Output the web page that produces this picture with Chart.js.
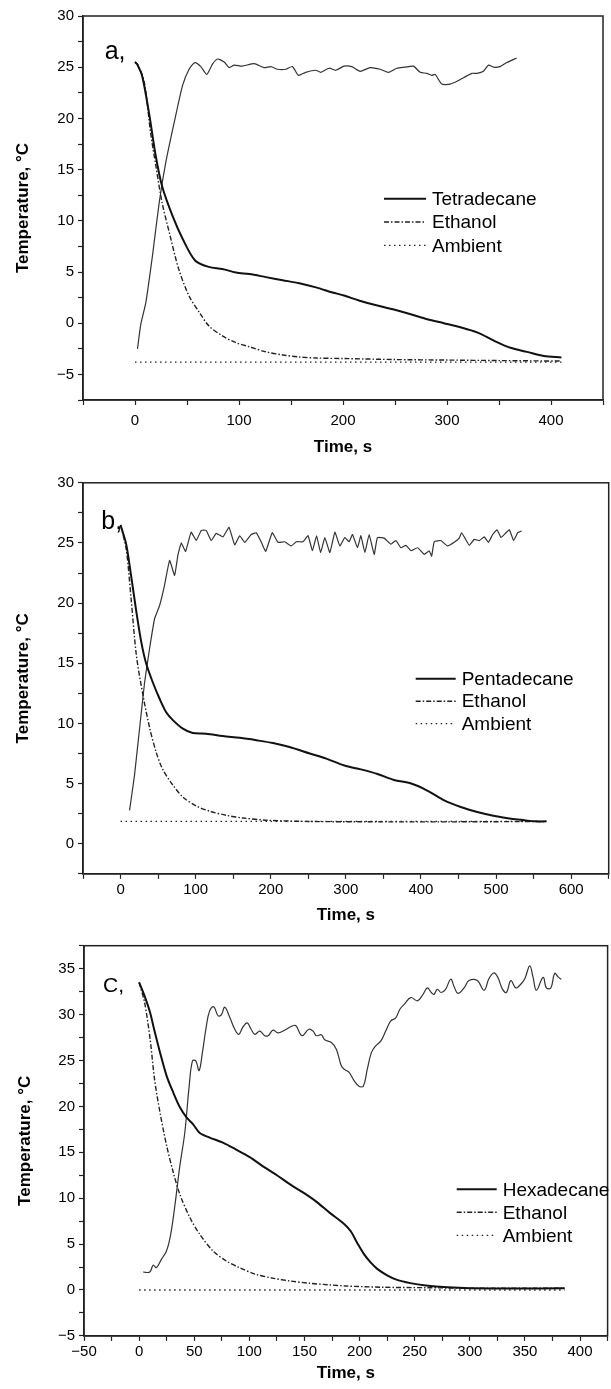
<!DOCTYPE html>
<html>
<head>
<meta charset="utf-8">
<script src="https://cdn.jsdelivr.net/npm/chart.js@4.4.1/dist/chart.umd.min.js"></script>
<style>
  body { margin: 0; background: #fff; width: 611px; height: 1389px; position: relative; overflow: hidden; }
  .panel { position: absolute; left: 0; width: 611px; }
</style>
</head>
<body>
<div class="panel" style="top:0;height:465px"><canvas id="chartA"></canvas></div>
<div class="panel" style="top:465px;height:465px"><canvas id="chartB"></canvas></div>
<div class="panel" style="top:930px;height:459px"><canvas id="chartC"></canvas></div>
<script>
// panel a: tetradecane
const aTetraT = [0, 2, 7, 14, 20, 26, 36, 46, 58, 71, 84, 97, 110, 126, 142, 158, 174, 190, 201, 216, 232, 248, 265, 281, 297, 313, 329, 345, 361, 377, 393, 410];
const aTetraV = [25.5, 25.3, 24.1, 20.2, 16.3, 13.4, 10.5, 8.2, 6.1, 5.5, 5.3, 4.95, 4.8, 4.5, 4.2, 3.9, 3.5, 3.0, 2.7, 2.2, 1.75, 1.37, 0.88, 0.39, 0, -0.4, -0.9, -1.7, -2.4, -2.8, -3.2, -3.35];
const aEthT = [0, 3, 9, 15, 20, 26, 33, 42, 52, 62, 71, 84, 97, 110, 126, 142, 158, 174, 201, 250, 300, 350, 410];
const aEthV = [25.5, 25.2, 23.5, 18.6, 15.4, 11.8, 8.85, 5.3, 2.65, 1.04, -0.26, -1.24, -1.9, -2.3, -2.8, -3.1, -3.3, -3.4, -3.45, -3.55, -3.6, -3.65, -3.7];
const aAmbT = [0, 410];
const aAmbV = [-3.8, -3.8];
const aRiseT = [2.4, 5.6, 10.4, 16.8, 23.3, 29.6, 37.7, 45.7, 52, 57.5, 63.3, 69, 74.5, 79.3, 85.8, 90.6, 95.4, 103, 114.6, 124, 130.6, 137, 145, 151.4, 157.2, 164, 174, 178.6, 186.7, 193, 201, 208.5, 216.5, 226, 235.8, 243.8, 251.8, 259.5, 267.8, 274.2, 280.6, 285.4, 288.6, 295, 303, 311, 319, 324, 329, 335, 340, 345, 351, 357.5, 367];
const aRiseV = [-2.5, -0.1, 2.0, 6.6, 11.8, 15.7, 19.6, 23.2, 24.8, 25.45, 25.06, 24.3, 25.3, 25.8, 25.5, 24.96, 25.2, 25.1, 25.35, 24.96, 25.06, 24.8, 24.8, 25.06, 24.2, 24.5, 24.7, 24.5, 24.9, 24.7, 25.1, 25.06, 24.6, 24.96, 24.8, 24.5, 24.9, 25, 25.1, 24.5, 24.4, 24.2, 24.3, 23.35, 23.35, 23.7, 24.15, 24.4, 24.4, 24.6, 25.2, 25, 25.06, 25.45, 25.9];

// panel b: pentadecane
const bPentT = [0, 7.5, 14, 21, 27.5, 34, 43, 52, 61, 70, 83, 96, 114, 136, 159, 181, 203, 225, 252, 274, 298, 320, 342, 364, 387, 409, 431, 453, 475, 498, 520, 538, 551, 567];
const bPentV = [26.5, 24.9, 22.3, 19.3, 16.8, 15, 13.4, 12.05, 10.9, 10.25, 9.56, 9.2, 9.15, 8.95, 8.8, 8.6, 8.37, 8.04, 7.5, 7.07, 6.5, 6.18, 5.8, 5.3, 5.0, 4.4, 3.6, 3.05, 2.63, 2.3, 2.08, 1.95, 1.86, 1.86];
const bEthT = [0, 7.5, 14, 21, 30, 39, 47.5, 56, 70, 83, 101, 119, 141, 163, 196, 250, 350, 450, 567];
const bEthV = [26.5, 24.5, 20.4, 15.7, 12.3, 9.56, 7.6, 6.2, 4.85, 3.88, 3.13, 2.7, 2.36, 2.14, 1.95, 1.85, 1.82, 1.82, 1.85];
const bAmbT = [0, 567];
const bAmbV = [1.85, 1.85];
const bRiseT = [12, 18.6, 25.3, 32, 38.6, 45.3, 52, 58.6, 65.3, 72, 76.4, 80.8, 86.6, 94, 100.8, 107.5, 114, 120.8, 127.4, 136.4, 144.4, 152, 158.6, 165.3, 174, 180.8, 187.5, 193.3, 202, 209.7, 218.5, 227.4, 234, 243, 249.7, 255.5, 261, 266.4, 272, 278.7, 285.4, 292, 298.6, 304.4, 308.8, 315.5, 320, 325.3, 331, 337.7, 342, 351, 360, 366.6, 373.3, 380, 386.7, 395.6, 404.4, 411, 414.2, 417.7, 426.5, 435.4, 444.3, 451, 454, 458.6, 464.4, 471, 477.8, 484.4, 489.8, 495.5, 501.3, 506.6, 513.3, 517.7, 523.5, 528.8, 534];
const bRiseV = [2.77, 5.7, 9.56, 13.4, 16.2, 18.7, 19.8, 21.5, 23.55, 22.3, 24, 25, 24.3, 25.9, 25.2, 26.05, 26.05, 25.2, 25.8, 25.5, 26.3, 24.85, 25.6, 25.05, 25.7, 25.85, 25.05, 24.3, 25.85, 25.05, 25.1, 24.75, 25.1, 25.1, 25.6, 24.35, 25.6, 24.2, 25.45, 24.2, 25.9, 24.75, 25.45, 25.1, 25.7, 24.6, 25.6, 24.2, 25.7, 24.05, 25.45, 25.4, 24.9, 25.2, 24.6, 24.8, 24.35, 24.6, 24.05, 24.35, 23.9, 25.1, 25.2, 24.75, 25.05, 25.4, 25.85, 25.4, 24.8, 25.3, 25.2, 25.5, 25.05, 25.7, 26.1, 25.45, 25.85, 26.1, 25.2, 25.85, 26];

// panel c: hexadecane
const cHexT = [0, 5, 10, 14, 19, 25, 31, 37, 43, 49, 55, 64, 76, 88, 100, 112, 125, 137, 149, 161, 173, 186, 192, 198, 204, 210, 216, 225, 234, 246, 260, 280, 300, 340, 386];
const cHexV = [33.5, 32, 30.2, 28.2, 25.85, 23.3, 21.5, 19.9, 18.8, 18.05, 17.1, 16.6, 16.05, 15.3, 14.5, 13.5, 12.5, 11.5, 10.6, 9.6, 8.4, 7.2, 6.4, 5.1, 3.9, 3.0, 2.3, 1.6, 1.1, 0.75, 0.5, 0.3, 0.2, 0.15, 0.2];
const cEthT = [0, 5, 10, 14, 19, 25, 31, 37, 46, 55, 67, 79, 91, 106, 122, 137, 155, 173, 187, 220, 260, 300, 386];
const cEthV = [33.5, 31.3, 27.3, 22.95, 19.3, 15.7, 12.8, 10.4, 7.9, 6.07, 4.25, 3.16, 2.43, 1.7, 1.27, 0.98, 0.73, 0.55, 0.44, 0.3, 0.25, 0.2, 0.2];
const cAmbT = [0, 386];
const cAmbV = [0, 0];
const cRiseT = [3.6, 9.7, 12.7, 15.7, 20.2, 24.8, 28.4, 32.4, 36.9, 41.4, 45.4, 48.4, 51.4, 54.4, 57.4, 61, 64, 67.7, 71.7, 74.7, 77.7, 82.2, 86.8, 90.4, 94, 98, 101.6, 105, 109.5, 114, 117, 121.5, 126, 132, 138, 142, 147.8, 153.9, 157.8, 160.8, 165.3, 168.4, 174.4, 179, 183.5, 186.6, 190.5, 195, 199.5, 203.4, 207, 210.7, 214.6, 219.2, 223.7, 228.3, 232.8, 236.7, 240.4, 246.4, 252.5, 257, 261.5, 265, 267.5, 270.5, 274, 278, 282.7, 285.7, 289.3, 294.8, 299.3, 306.8, 312.9, 317.5, 322, 325.6, 329.5, 333.2, 337.2, 341.7, 346.2, 349.9, 354.4, 357.4, 360.4, 366.5, 369.5, 373.5, 377, 380, 383];
const cRiseV = [1.96, 1.96, 2.7, 2.43, 3.34, 4.25, 5.9, 9.15, 13.5, 17.1, 22.2, 24.95, 24.95, 23.9, 25.85, 28.75, 30.4, 30.86, 29.85, 30, 30.8, 29.7, 28.4, 27.85, 28.6, 29.1, 28.4, 27.85, 28.2, 27.7, 27.7, 28.3, 28, 28.3, 28.7, 28.8, 27.7, 28.4, 28.2, 27.7, 27.8, 27.25, 26.95, 26.2, 24.4, 24, 23.7, 22.8, 22.2, 22.2, 24.05, 25.85, 26.6, 27.1, 28.2, 29.3, 29.65, 30.6, 31.1, 31.85, 31.5, 32.1, 32.9, 32.4, 32.2, 32.75, 32.4, 32.75, 33.85, 33.05, 32.3, 32.9, 33.7, 33.7, 32.65, 33.95, 34.55, 34, 32.8, 32.4, 33.7, 32.9, 33.3, 33.9, 35.3, 34.05, 32.65, 34.05, 32.9, 32.9, 34.5, 34.1, 33.85];

const FONT = 'Arial, "Liberation Sans", sans-serif';
Chart.defaults.font.family = FONT;
Chart.defaults.color = '#000';

function pts(xs, ys) {
  return xs.map((x, i) => ({ x: x, y: ys[i] }));
}

function onStep(v, step) {
  return Math.abs(v / step - Math.round(v / step)) < 1e-6;
}

function fmt(v) {
  const r = Math.round(v * 100) / 100;
  return r < 0 ? '\u2212' + Math.abs(r) : String(r);
}

// box round the plot area
const framePlugin = {
  id: 'frame',
  afterDraw(chart) {
    const a = chart.chartArea, ctx = chart.ctx;
    ctx.save();
    ctx.strokeStyle = '#222';
    ctx.lineWidth = 1.5;
    ctx.strokeRect(a.left, a.top, a.right - a.left, a.bottom - a.top);
    ctx.restore();
  }
};

// legend drawn inside the plot, built from the dataset styles
const keyPlugin = {
  id: 'seriesKey',
  afterDraw(chart, args, opts) {
    const ctx = chart.ctx;
    ctx.save();
    ctx.font = '19px ' + FONT;
    ctx.textBaseline = 'middle';
    ctx.fillStyle = '#000';
    let row = 0;
    chart.data.datasets.forEach(ds => {
      if (!ds.label) return;
      const y = opts.y + row * opts.rowH;
      ctx.beginPath();
      ctx.setLineDash(ds.borderDash || []);
      ctx.lineWidth = ds.borderWidth;
      ctx.strokeStyle = ds.borderColor;
      ctx.moveTo(opts.x, y);
      ctx.lineTo(opts.x + opts.len, y);
      ctx.stroke();
      ctx.setLineDash([]);
      ctx.fillText(ds.label, opts.x + opts.len + 6, y + 1);
      row++;
    });
    ctx.restore();
  }
};

const tagPlugin = {
  id: 'panelTag',
  afterDraw(chart, args, opts) {
    const ctx = chart.ctx;
    ctx.save();
    ctx.font = opts.size + 'px ' + FONT;
    ctx.fillStyle = '#000';
    ctx.textBaseline = 'alphabetic';
    ctx.fillText(opts.text, opts.x, opts.y);
    ctx.restore();
  }
};

function drawPanel(id, p) {
  const axisLine = { display: true, color: '#222', width: 1.5 };
  const tickGrid = { drawOnChartArea: false, drawTicks: true, tickLength: 5, tickColor: '#222', tickWidth: 1.2 };
  new Chart(document.getElementById(id), {
    type: 'line',
    data: {
      datasets: [
        { label: p.name, data: pts(p.mainT, p.mainV), borderColor: '#111', borderWidth: 2, tension: 0.3, pointRadius: 0 },
        { label: 'Ethanol', data: pts(p.ethT, p.ethV), borderColor: '#222', borderWidth: 1.4, borderDash: [5, 2, 1.5, 2], tension: 0.3, pointRadius: 0 },
        { label: 'Ambient', data: pts(p.ambT, p.ambV), borderColor: '#222', borderWidth: 1.3, borderDash: [1.5, 3.5], pointRadius: 0 },
        { label: '', data: pts(p.riseT, p.riseV), borderColor: '#333', borderWidth: 1.2, tension: p.riseTension, pointRadius: 0 }
      ]
    },
    options: {
      responsive: true,
      maintainAspectRatio: false,
      animation: false,
      events: [],
      layout: { padding: { top: p.padTop, right: p.padRight, left: 0, bottom: 0 } },
      plugins: {
        legend: { display: false },
        tooltip: { enabled: false },
        seriesKey: p.key,
        panelTag: p.tag
      },
      scales: {
        x: {
          type: 'linear',
          min: p.xMin,
          max: p.xMax,
          ticks: {
            stepSize: p.xStep,
            autoSkip: false,
            maxRotation: 0,
            padding: p.xPad,
            font: { size: 15 },
            color: '#000',
            callback: v => (onStep(v, p.xMajor) && v >= p.xFirst) ? fmt(v) : ''
          },
          grid: tickGrid,
          border: axisLine,
          title: { display: true, text: 'Time, s', font: { size: 17, weight: 'bold' }, padding: { top: 0, bottom: p.xTitlePad } },
          afterFit: s => { s.height = p.xHeight; }
        },
        y: {
          min: p.yMin,
          max: p.yMax,
          ticks: {
            stepSize: 2.5,
            autoSkip: false,
            padding: 4,
            font: { size: 15 },
            color: '#000',
            callback: v => (onStep(v, 5) && v >= p.yFirst) ? fmt(v) : ''
          },
          grid: tickGrid,
          border: axisLine,
          title: { display: true, text: 'Temperature, \u00B0C', font: { size: 17, weight: 'bold' }, padding: { top: p.yTitlePad, bottom: 0 } },
          afterFit: s => { s.width = p.left; }
        }
      }
    },
    plugins: [framePlugin, keyPlugin, tagPlugin]
  });
}

drawPanel('chartA', {
  name: 'Tetradecane',
  mainT: aTetraT, mainV: aTetraV, ethT: aEthT, ethV: aEthV, ambT: aAmbT, ambV: aAmbV,
  riseT: aRiseT, riseV: aRiseV, riseTension: 0.2,
  xMin: -50, xMax: 450, xStep: 50, xMajor: 100, xFirst: 0,
  yMin: -7.5, yMax: 30, yFirst: -5,
  padTop: 16, padRight: 8, left: 83, xHeight: 65, xPad: 7, xTitlePad: 7, yTitlePad: 12.8,
  key: { x: 384, y: 198.7, len: 42, rowH: 23.3 },
  tag: { text: 'a,', x: 104.7, y: 59.3, size: 25 }
});

drawPanel('chartB', {
  name: 'Pentadecane',
  mainT: bPentT, mainV: bPentV, ethT: bEthT, ethV: bEthV, ambT: bAmbT, ambV: bAmbV,
  riseT: bRiseT, riseV: bRiseV, riseTension: 0.1,
  xMin: -50, xMax: 650, xStep: 50, xMajor: 100, xFirst: 0,
  yMin: -2.5, yMax: 30, yFirst: 0,
  padTop: 17.8, padRight: 2.3, left: 83, xHeight: 56.2, xPad: 2, xTitlePad: 4, yTitlePad: 12.8,
  key: { x: 415.7, y: 213.7, len: 40, rowH: 22.5 },
  tag: { text: 'b,', x: 101.3, y: 63.7, size: 25 }
});

drawPanel('chartC', {
  name: 'Hexadecane',
  mainT: cHexT, mainV: cHexV, ethT: cEthT, ethV: cEthV, ambT: cAmbT, ambV: cAmbV,
  riseT: cRiseT, riseV: cRiseV, riseTension: 0.4,
  xMin: -50, xMax: 425, xStep: 25, xMajor: 50, xFirst: -50,
  yMin: -5, yMax: 37.5, yFirst: -5,
  padTop: 15.7, padRight: 3.4, left: 84, xHeight: 53.1, xPad: 2, xTitlePad: 5, yTitlePad: 14.8,
  key: { x: 456.7, y: 259.3, len: 40, rowH: 23 },
  tag: { text: 'C,', x: 103, y: 62, size: 21 }
});
</script>
</body>
</html>
